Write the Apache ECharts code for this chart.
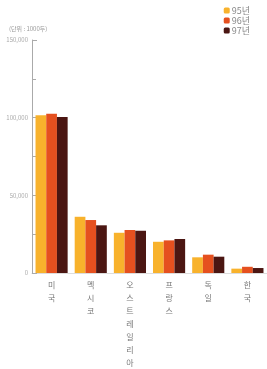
<head>
<meta charset="utf-8">
<script src="https://cdn.jsdelivr.net/npm/echarts@6/dist/echarts.min.js"></script>
<style>
  body { margin: 0; background: #fff; }
  #main { width: 267px; height: 369px; }
</style>
</head>
<body>
<div id="main"></div>
<script>
    // 국가별 소 사육두수 (단위: 1000두)
    var countries = ['미국', '멕시코', '오스트레일리아', '프랑스', '독일', '한국'];
    var years = ['95년', '96년', '97년'];
    var y95 = [101500, 36200, 25900, 20100, 10100, 2800];
    var y96 = [102500, 34100, 27700, 21000, 11800, 4000];
    var y97 = [100500, 30700, 27200, 21900, 10500, 3200];
    var colors = ['#F8B22C', '#E5501F', '#4B1612'];
    var font = '"Noto Sans CJK KR", "Noto Sans", sans-serif';

    var myChart = echarts.init(document.getElementById('main'));
    var option = {
        animation: false,
        color: colors,
        textStyle: { fontFamily: font },
        title: {
            text: '(단위 : 1000두)',
            left: 4, top: 21,
            textStyle: { fontSize: 6, color: '#999', fontWeight: 'normal', fontFamily: font }
        },
        legend: {
            data: years,
            orient: 'vertical',
            right: 12, top: 1,
            itemWidth: 6, itemHeight: 6, itemGap: 1,
            textStyle: { fontSize: 9, color: '#888', padding: [0, 0, 0, -3] }
        },
        grid: { left: 32, right: 0, top: 40, bottom: 96 },
        xAxis: {
            type: 'category',
            data: countries,
            axisLine: { lineStyle: { color: '#ddd', width: 1 } },
            axisTick: { length: 3, lineStyle: { color: '#bbb' } },
            axisLabel: {
                color: '#777', fontSize: 8, lineHeight: 13, margin: 5,
                formatter: function (v) { return v.split('').join('\n'); }
            }
        },
        yAxis: {
            type: 'value',
            min: 0, max: 150000, interval: 50000,
            axisLine: { show: true, lineStyle: { color: '#aaa', width: 1 } },
            axisTick: { show: true, inside: true, length: 5, lineStyle: { color: '#aaa' } },
            minorTick: { show: true, splitNumber: 2, length: 4, lineStyle: { color: '#aaa' } },
            splitLine: { show: false },
            axisLabel: {
                color: '#aaa', fontSize: 6, margin: 4,
                formatter: function (v) { return v.toLocaleString('en-US'); }
            }
        },
        series: [
            { name: years[0], type: 'bar', data: y95, barGap: '0%', barCategoryGap: '18%' },
            { name: years[1], type: 'bar', data: y96, barGap: '0%', barCategoryGap: '18%' },
            { name: years[2], type: 'bar', data: y97, barGap: '0%', barCategoryGap: '18%' }
        ]
    };
    myChart.setOption(option);
</script>
</body>
